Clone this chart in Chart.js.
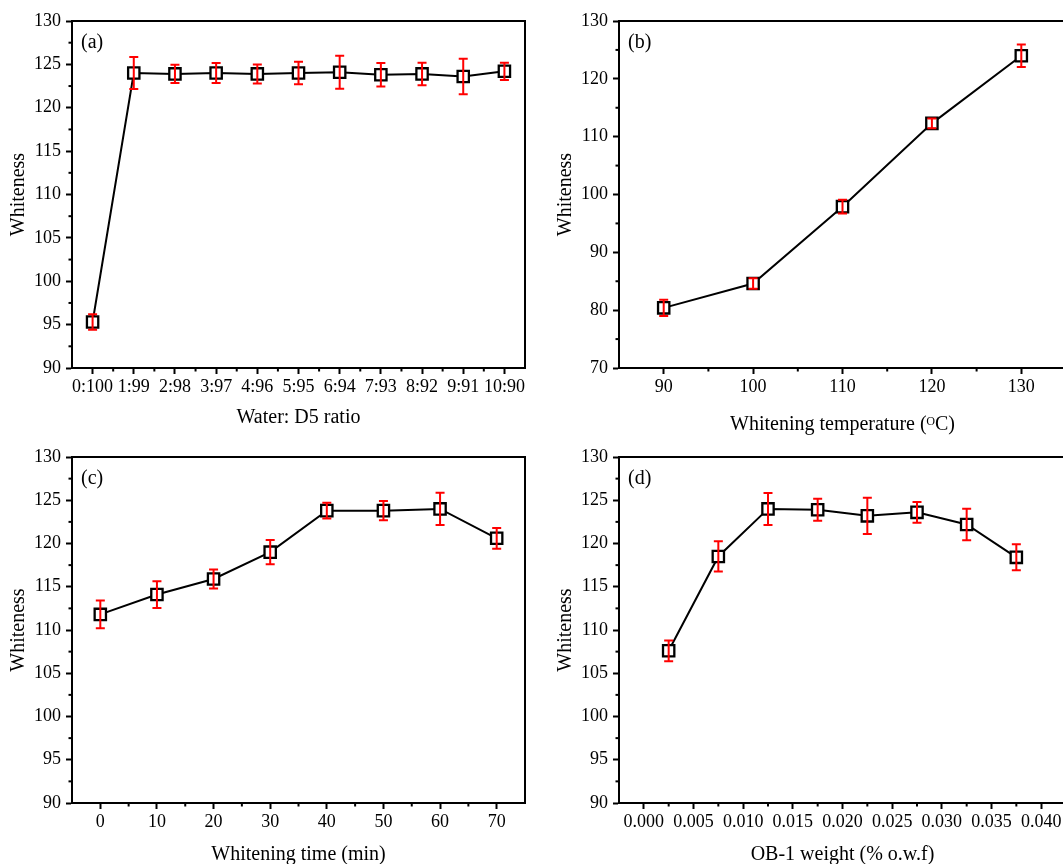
<!DOCTYPE html>
<html><head><meta charset="utf-8">
<script src="https://cdn.jsdelivr.net/npm/chart.js@4.4.0/dist/chart.umd.min.js"></script>
<style>
html,body{margin:0;padding:0;background:#fff;width:1063px;height:864px;overflow:hidden;position:relative}
canvas{position:absolute;display:block}
</style></head><body>
<canvas id="ca" width="540" height="434" style="left:0px;top:0px"></canvas>
<canvas id="cb" width="531" height="441" style="left:547px;top:0px"></canvas>
<canvas id="cc" width="540" height="435" style="left:0px;top:436px"></canvas>
<canvas id="cd" width="531" height="435" style="left:547px;top:436px"></canvas>
<script>
// ---- data ----
const ratioLabels = ['0:100','1:99','2:98','3:97','4:96','5:95','6:94','7:93','8:92','9:91','10:90'];
const ratioWhiteness = [95.3, 124.0, 123.9, 124.0, 123.9, 124.0, 124.1, 123.8, 123.9, 123.6, 124.2];
const ratioErrors = [0.9, 1.85, 1.05, 1.15, 1.1, 1.3, 1.9, 1.35, 1.3, 2.05, 1.0];

const temperatures = [90, 100, 110, 120, 130];
const tempWhiteness = [80.4, 84.6, 97.9, 112.3, 124.0];
const tempErrors = [1.4, 0.9, 1.2, 0.85, 1.95];

const times = [0, 10, 20, 30, 40, 50, 60, 70];
const timeWhiteness = [111.8, 114.1, 115.9, 119.0, 123.8, 123.8, 124.0, 120.6];
const timeErrors = [1.6, 1.55, 1.1, 1.4, 0.9, 1.1, 1.87, 1.2];

const weights = [0.0025, 0.0075, 0.0125, 0.0175, 0.0225, 0.0275, 0.0325, 0.0375];
const weightWhiteness = [107.6, 118.5, 124.0, 123.9, 123.2, 123.6, 122.2, 118.4];
const weightErrors = [1.2, 1.75, 1.85, 1.27, 2.1, 1.2, 1.83, 1.5];

const yTicksA = [90, 95, 100, 105, 110, 115, 120, 125, 130];
const yTicksB = [70, 80, 90, 100, 110, 120, 130];
const xTicksB = [90, 100, 110, 120, 130];
const xTicksC = [0, 10, 20, 30, 40, 50, 60, 70];
const xTicksD = [0, 0.005, 0.01, 0.015, 0.02, 0.025, 0.03, 0.035, 0.04];

// ---- drawing helpers ----
const FONT = "'Liberation Serif','Times New Roman',serif";
const mids = arr => arr.slice(0, -1).map((v, i) => (v + arr[i + 1]) / 2);

const decor = {
  id: 'decor',
  afterDraw(chart, args, o) {
    const ctx = chart.ctx, a = chart.chartArea;
    const xs = chart.scales.x, ys = chart.scales.y;
    ctx.save();
    ctx.strokeStyle = '#000';
    ctx.lineWidth = 2;
    (o.xMinor || []).forEach(v => {
      const px = xs.getPixelForValue(v);
      ctx.beginPath(); ctx.moveTo(px, a.bottom); ctx.lineTo(px, a.bottom + 3.5); ctx.stroke();
    });
    (o.yMinor || []).forEach(v => {
      const py = ys.getPixelForValue(v);
      ctx.beginPath(); ctx.moveTo(a.left, py); ctx.lineTo(a.left - 3.5, py); ctx.stroke();
    });
    ctx.strokeRect(a.left, a.top, a.right - a.left, a.bottom - a.top);
    ctx.fillStyle = '#000';
    ctx.font = '20px ' + FONT;
    ctx.textBaseline = 'middle';
    ctx.textAlign = 'left';
    ctx.fillText(o.tag, a.left + 9, a.top + 22);
    ctx.restore();
  }
};

const errorBars = {
  id: 'errorBars',
  afterDatasetsDraw(chart, args, o) {
    const meta = chart.getDatasetMeta(0), ys = chart.scales.y, ctx = chart.ctx;
    ctx.save();
    ctx.strokeStyle = '#ff0000';
    ctx.lineWidth = 2;
    meta.data.forEach((pt, i) => {
      const v = o.values[i], e = o.errors[i];
      const t = ys.getPixelForValue(v + e), b = ys.getPixelForValue(v - e), x = pt.x;
      ctx.beginPath();
      ctx.moveTo(x, t); ctx.lineTo(x, b);
      ctx.moveTo(x - 4.5, t); ctx.lineTo(x + 4.5, t);
      ctx.moveTo(x - 4.5, b); ctx.lineTo(x + 4.5, b);
      ctx.stroke();
    });
    ctx.restore();
  }
};

function axisCommon() {
  return {
    grid: { display: true, drawOnChartArea: false, drawTicks: true, tickLength: 6, tickWidth: 2, tickColor: '#000' },
    border: { display: true, color: '#000', width: 2 },
  };
}

function panel(p) {
  const isCat = p.xType === 'category';
  const data = isCat ? p.values : p.xs.map((x, i) => ({ x: x, y: p.values[i] }));
  const x = Object.assign(axisCommon(), {
    type: p.xType,
    position: 'bottom',
    offset: isCat,
    ticks: { color: '#000', font: { family: FONT, size: 18 }, padding: 2, autoSkip: false, maxRotation: 0, minRotation: 0,
             callback: isCat ? function (v, i) { return p.labels[i]; } : (p.xFmt || (v => String(v))) },
    title: { display: true, text: p.xTitle, color: '#000', font: { family: FONT, size: 20 }, padding: { top: 0, bottom: p.xTitlePad } },
    afterFit: s => { s.height = p.xAxisH; }
  });
  if (isCat) { x.labels = p.labels; }
  else {
    x.min = p.xMin; x.max = p.xMax;
    x.afterBuildTicks = s => { s.ticks = p.xTicks.map(v => ({ value: v })); };
  }
  const y = Object.assign(axisCommon(), {
    type: 'linear', position: 'left', min: p.yMin, max: p.yMax,
    ticks: { color: '#000', font: { family: FONT, size: 18 }, padding: 5, callback: v => String(v) },
    title: { display: true, text: 'Whiteness', color: '#000', font: { family: FONT, size: 20 }, padding: { top: 7, bottom: 0 } },
    afterBuildTicks: s => { s.ticks = p.yTicks.map(v => ({ value: v })); },
    afterFit: s => { s.width = 72; }
  });
  return new Chart(document.getElementById(p.id), {
    type: 'line',
    data: {
      labels: isCat ? p.labels : undefined,
      datasets: [{
        data: data,
        borderColor: '#000', borderWidth: 2, tension: 0,
        pointStyle: 'rect', pointRadius: 8, pointBorderWidth: 2.3,
        pointBorderColor: '#000', pointBackgroundColor: '#fff', fill: false
      }]
    },
    options: {
      responsive: false, animation: false, devicePixelRatio: 1,
      layout: { padding: { top: 21, right: p.padRight, bottom: 0, left: 0 } },
      plugins: {
        legend: { display: false }, tooltip: { enabled: false },
        decor: { tag: p.tag, xMinor: p.xMinor, yMinor: p.yMinor },
        errorBars: { values: p.values, errors: p.errors }
      },
      scales: { x: x, y: y }
    },
    plugins: [errorBars, decor]
  });
}

panel({ id: 'ca', tag: '(a)', xType: 'category', labels: ratioLabels, values: ratioWhiteness, errors: ratioErrors,
  xMinor: mids(ratioLabels.map((_, i) => i)), yMin: 90, yMax: 130, yTicks: yTicksA, yMinor: mids(yTicksA),
  xTitle: 'Water: D5 ratio', xAxisH: 66, xTitlePad: 4, padRight: 15 });

panel({ id: 'cb', tag: '(b)', xType: 'linear', xs: temperatures, values: tempWhiteness, errors: tempErrors,
  xMin: 85, xMax: 135, xTicks: xTicksB, xMinor: [95, 105, 115, 125, 135],
  yMin: 70, yMax: 130, yTicks: yTicksB, yMinor: mids(yTicksB),
  xTitle: 'Whitening temperature (\u1D3CC)', xAxisH: 73, xTitlePad: 4, padRight: 12 });

panel({ id: 'cc', tag: '(c)', xType: 'linear', xs: times, values: timeWhiteness, errors: timeErrors,
  xMin: -5, xMax: 75, xTicks: xTicksC, xMinor: mids(xTicksC),
  yMin: 90, yMax: 130, yTicks: yTicksA, yMinor: mids(yTicksA),
  xTitle: 'Whitening time (min)', xAxisH: 68, xTitlePad: 4, padRight: 15 });

panel({ id: 'cd', tag: '(d)', xType: 'linear', xs: weights, values: weightWhiteness, errors: weightErrors,
  xMin: -0.0025, xMax: 0.0425, xTicks: xTicksD, xMinor: mids(xTicksD), xFmt: v => v.toFixed(3),
  yMin: 90, yMax: 130, yTicks: yTicksA, yMinor: mids(yTicksA),
  xTitle: 'OB-1 weight (% o.w.f)', xAxisH: 68, xTitlePad: 4, padRight: 12 });
</script>
</body></html>
